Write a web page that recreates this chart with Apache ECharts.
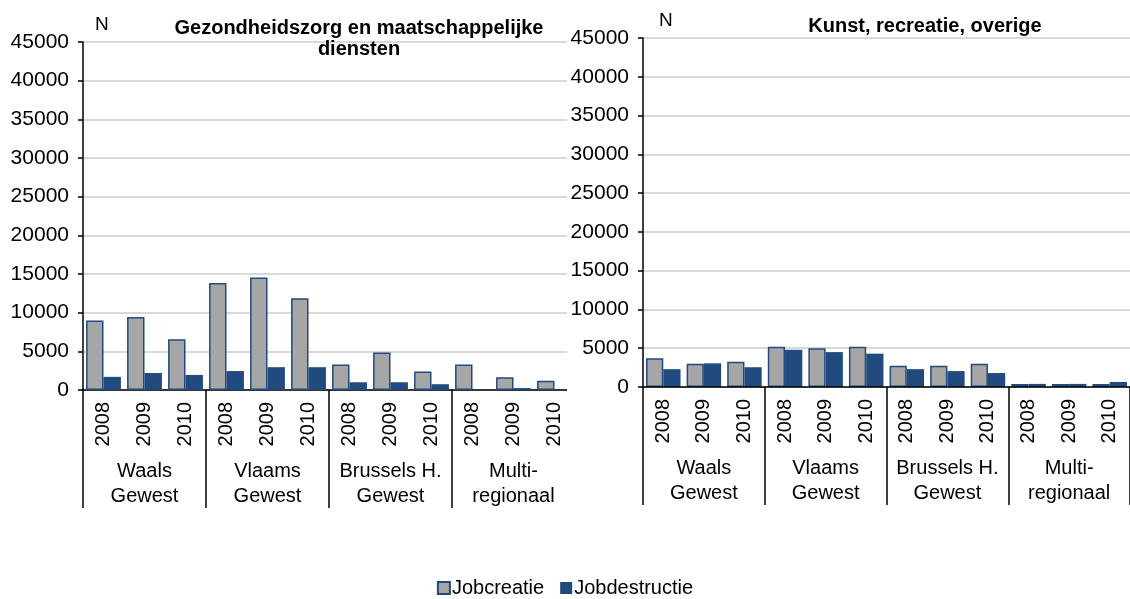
<!DOCTYPE html>
<html>
<head>
<meta charset="utf-8">
<script src="https://cdn.jsdelivr.net/npm/echarts@6/dist/echarts.min.js"></script>
<style>
  html, body { margin: 0; padding: 0; background: #fff; }
  #chart { width: 1130px; height: 599px; }
</style>
</head>
<body>
<div id="chart"></div>
<script>
// data
const years = ['2008', '2009', '2010'];
const regions = ['Waals\nGewest', 'Vlaams\nGewest', 'Brussels H.\nGewest', 'Multi-\nregionaal'];

const gezCreatie    = [9000, 9450, 6550, 13850, 14550, 11850, 3300, 4850, 2400, 3300, 1650, 1200];
const gezDestructie = [1700, 2200, 1950, 2450, 2950, 2950, 1000, 1000, 750, 0, 250, 0];
const kunstCreatie    = [3700, 3000, 3250, 5200, 5000, 5200, 2750, 2750, 3000, 400, 400, 400];
const kunstDestructie = [2300, 3050, 2550, 4800, 4500, 4300, 2300, 2050, 1800, 400, 400, 650];

const titles = ['Gezondheidszorg en maatschappelijke\ndiensten', 'Kunst, recreatie, overige'];

const cats = regions.flatMap(() => years);
const FONT = "'Liberation Sans', Arial, sans-serif";
const BLUE = '#214A7E';
const GREY = '#A6A6A6';

const grids = [
  { left: 83, top: 42, width: 492, bottom: 209 },
  { left: 643, top: 38, width: 492, bottom: 212 }
];

// left chart axes stay under the white panel, right chart axes above it
const axisZ = [0, 60];

function yearAxis(g) {
  return {
    type: 'category', gridIndex: g, data: cats, z: axisZ[g],
    axisLine: { lineStyle: { color: '#000', width: 1.5 } },
    axisTick: { show: false },
    axisLabel: { rotate: 90, margin: 12, fontSize: 20, color: '#000', fontFamily: FONT, interval: 0 }
  };
}
function regionAxis(g) {
  return {
    type: 'category', gridIndex: g, data: regions, position: 'bottom', z: axisZ[g],
    axisLine: { show: false },
    axisTick: { show: true, length: 118, interval: 0, lineStyle: { color: '#000', width: 1.5 } },
    axisLabel: { margin: 69, fontSize: 20, lineHeight: 25, color: '#000', fontFamily: FONT, interval: 0 }
  };
}
function valueAxis(g) {
  return {
    type: 'value', gridIndex: g, min: 0, max: 45000, interval: 5000, z: axisZ[g],
    axisLine: { show: true, lineStyle: { color: '#000', width: 1.5 } },
    axisTick: { show: true, length: 5, lineStyle: { color: '#000', width: 1.5 } },
    axisLabel: { margin: 14, fontSize: 21, color: '#000', fontFamily: FONT, formatter: v => String(v) },
    splitLine: { show: g === 0, lineStyle: { color: '#d9d9d9', width: 2 } }
  };
}
// gridlines of the right chart, kept under the bars
const rightGridLines = {
  type: 'value', gridIndex: 1, min: 0, max: 45000, interval: 5000, z: 0, position: 'left',
  axisLine: { show: false }, axisTick: { show: false }, axisLabel: { show: false },
  splitLine: { show: true, lineStyle: { color: '#d9d9d9', width: 2 } }
};
function bars(name, data, g, creatie) {
  return {
    name, type: 'bar', data,
    xAxisIndex: g * 2, yAxisIndex: g,
    barGap: '0%', barCategoryGap: '15%',
    itemStyle: creatie
      ? { color: GREY, borderColor: BLUE, borderWidth: 1.5 }
      : { color: BLUE },
    z: 2
  };
}

const chart = echarts.init(document.getElementById('chart'), null, { renderer: 'canvas' });
chart.setOption({
  animation: false,
  textStyle: { fontFamily: FONT },
  title: [
    { text: titles[0], left: 354, top: 13, textAlign: 'center',
      textStyle: { fontSize: 20, fontWeight: 'bold', color: '#000', lineHeight: 21, fontFamily: FONT } },
    { text: titles[1], left: 920, top: 11, textAlign: 'center',
      textStyle: { fontSize: 20, fontWeight: 'bold', color: '#000', fontFamily: FONT } },
    { text: 'N', left: 90, top: 10, textStyle: { fontSize: 19, fontWeight: 'normal', color: '#000', fontFamily: FONT } },
    { text: 'N', left: 654, top: 6, textStyle: { fontSize: 19, fontWeight: 'normal', color: '#000', fontFamily: FONT } }
  ],
  legend: {
    top: 573, left: 'center', itemWidth: 12, itemHeight: 12, itemGap: 16, icon: 'rect',
    data: ['Jobcreatie', 'Jobdestructie'],
    textStyle: { fontSize: 20, color: '#000', fontFamily: FONT, padding: [0, 0, 0, -3] }
  },
  grid: grids,
  xAxis: [yearAxis(0), regionAxis(0), yearAxis(1), regionAxis(1)],
  yAxis: [valueAxis(0), valueAxis(1), rightGridLines],
  // white panel: the right chart sits over the end of the left one
  graphic: [{ type: 'rect', left: 567, top: 0, shape: { width: 76, height: 530 }, style: { fill: '#fff' }, z: 50 }],
  series: [
    bars('Jobcreatie', gezCreatie, 0, true),
    bars('Jobdestructie', gezDestructie, 0, false),
    bars('Jobcreatie', kunstCreatie, 1, true),
    bars('Jobdestructie', kunstDestructie, 1, false)
  ]
});
</script>
</body>
</html>
